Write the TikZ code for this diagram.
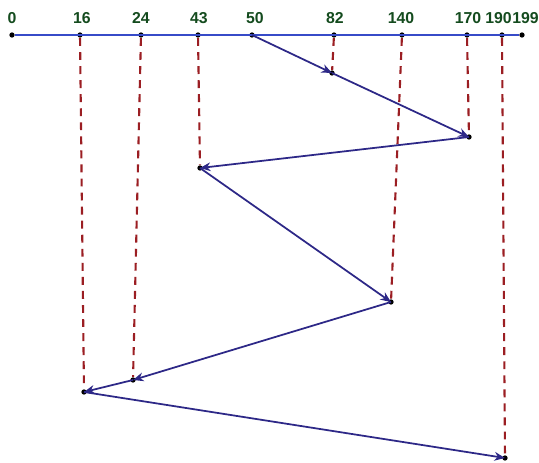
\documentclass[tikz,border=0pt]{standalone}
\usepackage{fontspec}
\setsansfont{Liberation Sans}
\usetikzlibrary{arrows.meta}
\definecolor{axisblue}{RGB}{55,75,200}
\definecolor{pathblue}{RGB}{45,40,135}
\definecolor{reqred}{RGB}{155,30,35}
\definecolor{labgreen}{RGB}{20,75,30}

\begin{document}
\begin{tikzpicture}
  [x=0.02cm, y=-0.02cm,
   dot/.style={circle, fill=black, inner sep=0pt, minimum size=3pt},
   lab/.style={text=labgreen, font=\sffamily\bfseries\fontsize{9}{10}\selectfont, inner sep=0pt},
   req/.style={reqred, line width=1.2pt, dash pattern=on 4.5pt off 3.5pt},
   move/.style={pathblue, line width=1pt, -{Stealth[length=6pt, width=5pt]}}]

  \useasboundingbox (0,0) rectangle (539,463);

  % cylinder axis
  \node[dot] (t0)   at (12,35)  {};
  \node[dot] (t16)  at (80,35)  {};
  \node[dot] (t24)  at (141,35) {};
  \node[dot] (t43)  at (198,35) {};
  \node[dot] (t50)  at (252,35) {};
  \node[dot] (t82)  at (334,35) {};
  \node[dot] (t140) at (402,35) {};
  \node[dot] (t170) at (467,35) {};
  \node[dot] (t190) at (502,35) {};
  \node[dot] (t199) at (522,35) {};
  \draw[axisblue, line width=1pt] (t0) -- (t199);

  \node[lab] at (12,18)  {0};
  \node[lab] at (82,18)  {16};
  \node[lab] at (141,18) {24};
  \node[lab] at (199,18) {43};
  \node[lab] at (255,18) {50};
  \node[lab] at (335,18) {82};
  \node[lab] at (401,18) {140};
  \node[lab] at (468,18) {170};
  \node[lab, anchor=east] at (512,18) {190};
  \node[lab, anchor=west] at (512,18) {199};

  % requests
  \node[dot] (p82)  at (332,73)  {};
  \node[dot] (p170) at (469,137) {};
  \node[dot] (p43)  at (200,168) {};
  \node[dot] (p140) at (391,302) {};
  \node[dot] (p24)  at (133,380) {};
  \node[dot] (p16)  at (84,392)  {};
  \node[dot] (p190) at (505,458) {};

  \draw[req] (t82) -- (p82);
  \draw[req] (t170) -- (p170);
  \draw[req] (t43) -- (p43);
  \draw[req] (t140) -- (p140);
  \draw[req] (t24) -- (p24);
  \draw[req] (t16) -- (p16);
  \draw[req] (t190) -- (p190);

  % head movement
  \draw[move] (t50.center) -- (p82.center);
  \draw[move] (p82.center) -- (p170.center);
  \draw[move] (p170.center) -- (p43.center);
  \draw[move] (p43.center) -- (p140.center);
  \draw[move] (p140.center) -- (p24.center);
  \draw[move] (p24.center) -- (p16.center);
  \draw[move] (p16.center) -- (p190.center);
\end{tikzpicture}
\end{document}
